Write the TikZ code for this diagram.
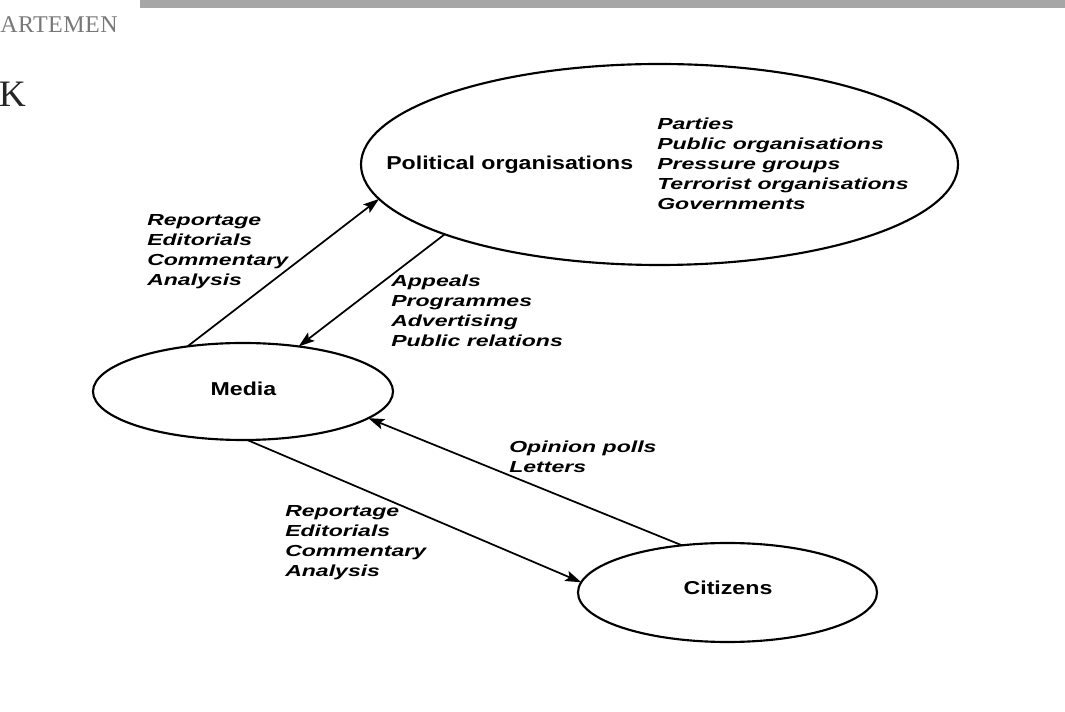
\documentclass[tikz,border=0pt]{standalone}
\usepackage{fontspec}
\newfontfamily\lstfont[FakeStretch=1.44]{Liberation Sans}
\newfontfamily\ttlfont[FakeStretch=1.24]{Liberation Sans}
\newfontfamily\headfont[LetterSpace=2]{Liberation Serif}
\usetikzlibrary{arrows.meta,shapes.geometric}
\definecolor{barcol}{RGB}{166,166,166}
\definecolor{headgray}{RGB}{120,120,120}
\begin{document}
\begin{tikzpicture}[x=0.75pt,y=-0.75pt,
  ell/.style={ellipse, draw, line width=1.6pt, inner sep=0pt, outer sep=0pt},
  link/.style={line width=1.3pt, -{Stealth[length=12pt,width=8pt,inset=2.5pt]}},
  ttl/.style={font=\ttlfont\fontsize{14}{16}\selectfont\bfseries, inner sep=0pt},
  lst/.style={font=\lstfont\fontsize{12}{15}\selectfont\bfseries\itshape, align=left, anchor=north west, inner sep=0pt}]
\useasboundingbox (0,0) rectangle (1065,712);
\fill[barcol] (140,0) rectangle (1065,8.3);
\node[anchor=base west, inner sep=0pt, text=headgray, font=\headfont\fontsize{18}{20}\selectfont] (dept) at (0,32.3) {ARTEMEN};
\node[anchor=base west, inner sep=0pt, text=black!85, font=\headfont\fontsize{28}{30}\selectfont] (k) at (-1.5,107) {K};

\node[ell, minimum width=447.75pt, minimum height=150.75pt] (pol) at (659.5,164.5) {};
\node[ell, minimum width=225pt, minimum height=72.75pt] (media) at (243,391.5) {};
\node[ell, minimum width=224.25pt, minimum height=74.25pt] (cit) at (727.5,592.5) {};

\node[ttl, anchor=base west] (poltxt) at (386,170) {Political organisations};
\node[ttl, anchor=base] (mediatxt) at (243.5,396) {Media};
\node[ttl, anchor=base] (cittxt) at (728,595) {Citizens};
\node[lst] (types) at (657,118) {Parties\\Public organisations\\Pressure groups\\Terrorist organisations\\Governments};
\node[lst] (rep1) at (147,214) {Reportage\\Editorials\\Commentary\\Analysis};
\node[lst] (appeals) at (391,274.5) {Appeals\\Programmes\\Advertising\\Public relations};
\node[lst] (polls) at (509,440.5) {Opinion polls\\Letters};
\node[lst] (rep2) at (285,505.5) {Reportage\\Editorials\\Commentary\\Analysis};

\draw[link] (media.141) -- (pol.-173);
\draw[link] (pol.-162) -- (media.39);
\draw[link] (cit.134) -- (media.-12);
\draw[link] (media.-85) -- (cit.176);
\end{tikzpicture}
\end{document}
